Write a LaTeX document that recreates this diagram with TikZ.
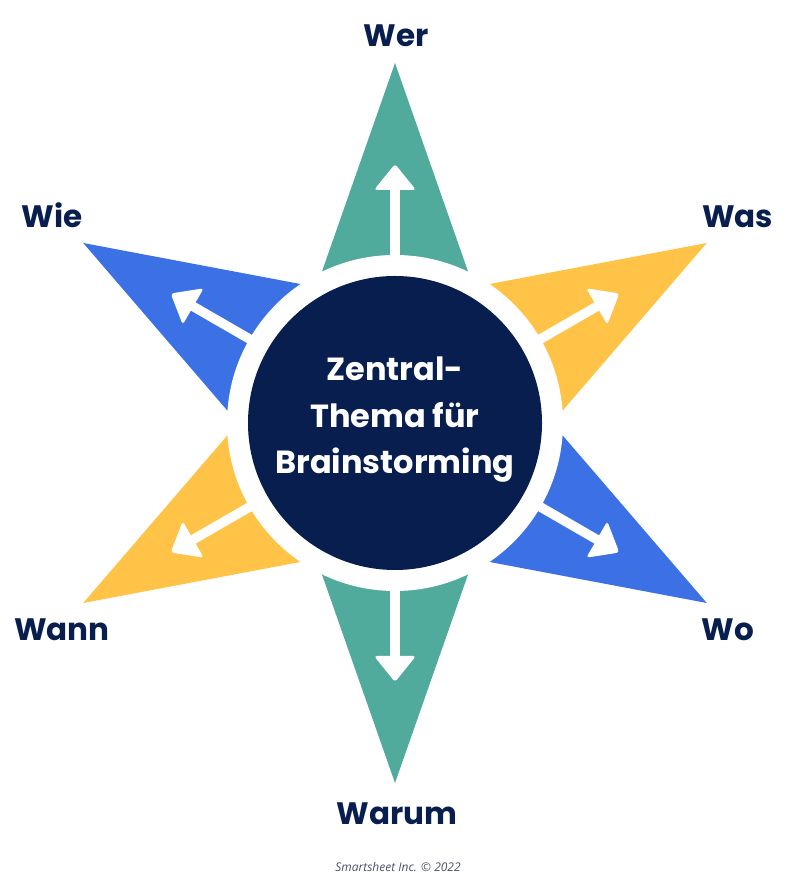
\documentclass[tikz,border=0pt]{standalone}
\usepackage{fontspec}
\setmainfont{Poppins}
\newfontfamily\footfont{Open Sans}
\definecolor{teal1}{HTML}{50AB9C}
\definecolor{yellow1}{HTML}{FFC447}
\definecolor{blue1}{HTML}{3B71E5}
\definecolor{navy1}{HTML}{071E4E}
\definecolor{foot1}{HTML}{4A5468}
\tikzset{
  lbl/.style={anchor=base, inner sep=0pt, text=navy1, font=\fontsize{31}{36}\selectfont\bfseries},
  shaft/.style={draw=white, line width=9.5pt},
  head/.style={fill=white, rounded corners=3pt},
}
\begin{document}
\begin{tikzpicture}[x=1pt,y=1pt]
\useasboundingbox (0,0) rectangle (800,890);
\fill[white] (0,0) rectangle (800,890);
\coordinate (C) at (395,467);
\foreach \a/\c in {90/teal1,30/yellow1,-30/blue1,-90/teal1,210/yellow1,150/blue1}{
  \begin{scope}[shift={(C)}, rotate=\a]
    \fill[\c] (360,0) -- (25.8:168) -- (-25.8:168) -- cycle;
  \end{scope}
}
\fill[white] (C) circle[radius=168];
\fill[navy1] (C) circle[radius=147];
\foreach \a in {90,30,-30,-90,210,150}{
  \begin{scope}[shift={(C)}, rotate=\a]
    \draw[shaft] (160,0) -- (240,0);
    \fill[head] (259,0) -- (233,21) -- (233,-21) -- cycle;
  \end{scope}
}
\node[align=center, inner sep=0pt, text=white, font=\fontsize{32}{46.5}\selectfont\bfseries] (topic) at (395,470) {Zentral-\\Thema für\\Brainstorming};
\node[lbl] (wer) at (396,843) {Wer};
\node[lbl] (was) at (737.5,662) {Was};
\node[lbl] (wie) at (52,662) {Wie};
\node[lbl] (wann) at (62,249) {Wann};
\node[lbl] (wo) at (728,249) {Wo};
\node[lbl] (warum) at (397,65) {Warum};
\node[anchor=base, inner sep=0pt, text=foot1, font=\footfont\itshape\fontsize{12}{14}\selectfont] (foot) at (398,18) {Smartsheet Inc. © 2022};
\end{tikzpicture}
\end{document}
